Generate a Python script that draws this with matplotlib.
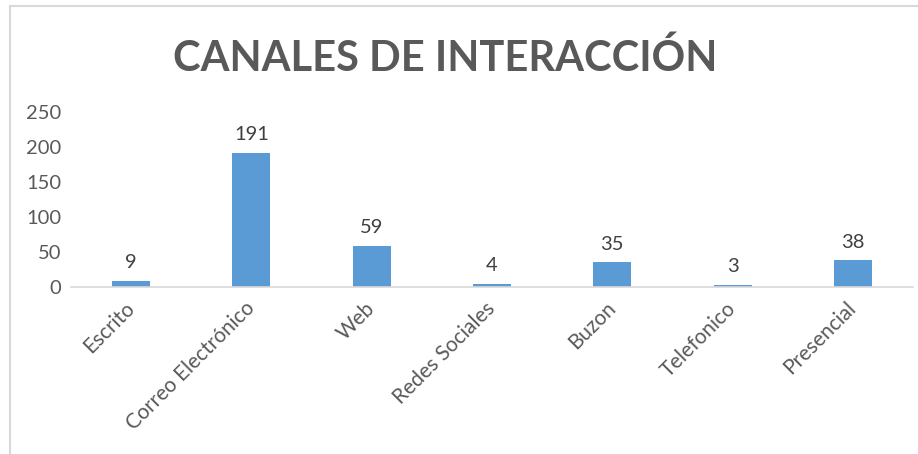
import matplotlib.pyplot as plt
from matplotlib.lines import Line2D

# Data
canales = ['Escrito', 'Correo Electrónico', 'Web', 'Redes Sociales',
           'Buzon', 'Telefonico', 'Presencial']
cantidad = [9, 191, 59, 4, 35, 3, 38]
y_ticks = [0, 50, 100, 150, 200, 250]

plt.rcParams['font.family'] = ['Lato', 'DejaVu Sans']

fig = plt.figure(figsize=(9.18, 4.54), dpi=100)
ax = fig.add_axes([71 / 918, 1 - 287 / 454, (913 - 71) / 918, 175.4 / 454])

x = range(len(canales))
bars = ax.bar(x, cantidad, width=0.316, color='#5B9BD5', zorder=2)
for b, v in zip(bars, cantidad):
    ax.annotate(str(v), (b.get_x() + b.get_width() / 2, v),
                xytext=(0, 7), textcoords='offset points',
                ha='center', va='bottom', fontsize=14.5, color='#404040')

ax.set_xlim(-0.5, len(canales) - 0.5)
ax.set_ylim(0, 250)
ax.set_yticks(y_ticks)
ax.set_xticks(list(x))
ax.set_xticklabels(canales, rotation=45, ha='right', va='center',
                   rotation_mode='anchor', fontsize=15, color='#595959')
ax.tick_params(axis='y', length=0, labelsize=14.5, labelcolor='#595959', pad=7)
ax.tick_params(axis='x', length=0, pad=13)

for s in ['top', 'right', 'left']:
    ax.spines[s].set_visible(False)
ax.spines['bottom'].set_color('#D9D9D9')
ax.spines['bottom'].set_linewidth(1.2)

fig.text(445 / 918, 1 - 58 / 454, 'CANALES DE INTERACCIÓN', ha='center',
         va='center', fontsize=30, fontweight='bold', color='#595959')

# chart frame (left and top edges visible)
fig.add_artist(Line2D([10 / 918, 10 / 918], [0, 1 - 6 / 454],
                      transform=fig.transFigure, color='#D9D9D9', lw=1.5))
fig.add_artist(Line2D([10 / 918, 1], [1 - 6 / 454, 1 - 6 / 454],
                      transform=fig.transFigure, color='#D9D9D9', lw=1.5))

fig.savefig('out.png', dpi=100)
